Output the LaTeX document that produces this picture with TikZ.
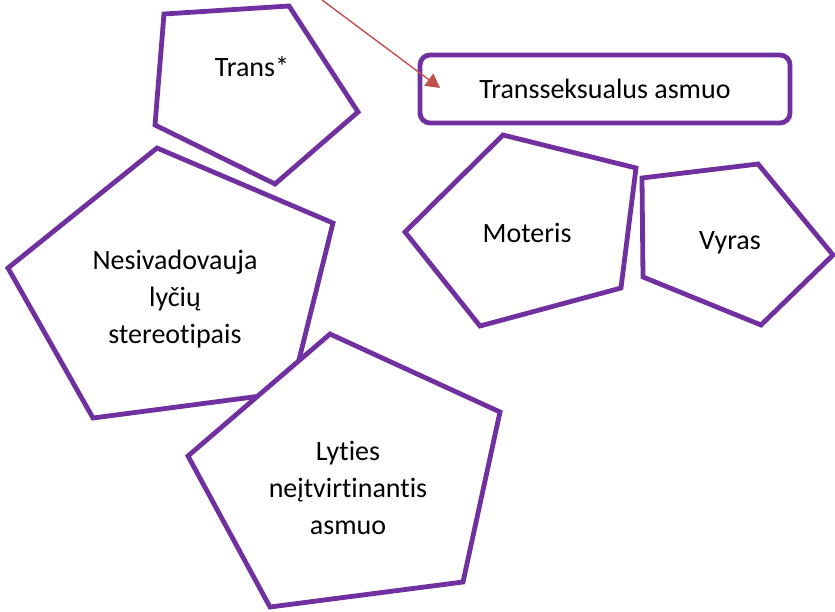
\documentclass[tikz,border=0pt]{standalone}
\usepackage{fontspec}
\setmainfont{Carlito}[Ligatures={NoCommon}]
\usetikzlibrary{arrows.meta}
\definecolor{pentapurple}{HTML}{7030A0}
\definecolor{arrowred}{HTML}{C0504D}
\tikzset{
  penta/.style={draw=pentapurple, line width=4.8pt, fill=white, line join=miter},
  lbl/.style={align=center, font=\fontsize{28}{37}\selectfont, inner sep=0pt},
  boxnode/.style={draw=pentapurple, line width=4.8pt, rounded corners=10pt, fill=white,
    minimum width=370pt, minimum height=68pt, font=\fontsize{28}{37}\selectfont},
  conn/.style={draw=arrowred, line width=1.4pt, -{Triangle[length=14pt,width=15pt]}}
}
\begin{document}
\begin{tikzpicture}[x=1pt,y=-1pt]
\useasboundingbox (0,0) rectangle (835,611);
% Trans*
\draw[penta] (164,14) -- (289,6) -- (358,112) -- (275,184) -- (155,125) -- cycle;
\node[lbl] (trans) at (252,67) {Trans*};
% Nesivadovauja
\draw[penta] (157,148) -- (333,223) -- (291,392) -- (93,418) -- (8,268) -- cycle;
\node[lbl] (nesiv) at (175,299) {Nesivadovauja\\lyčių\\stereotipais};
% Lyties
\draw[penta] (330,334) -- (500,412) -- (463,582) -- (270,607) -- (188,456) -- cycle;
\node[lbl] (lyties) at (348,488) {Lyties\\neįtvirtinantis\\asmuo};
% Moteris
\draw[penta] (503,135) -- (636,168) -- (621,288) -- (480,326) -- (405,232) -- cycle;
\node[lbl] (moteris) at (527,233) {Moteris};
% Vyras
\draw[penta] (642,178) -- (758,164) -- (833,255) -- (761,325) -- (643,277) -- cycle;
\node[lbl] (vyras) at (730,243) {Vyras};
% Box
\node[boxnode] (trsx) at (605,89) {Transseksualus asmuo};
% Arrow
\coordinate (arrstart) at (322,0);
\coordinate (arrend) at (440,88);
\draw[conn] (arrstart) -- (arrend);
\end{tikzpicture}
\end{document}
